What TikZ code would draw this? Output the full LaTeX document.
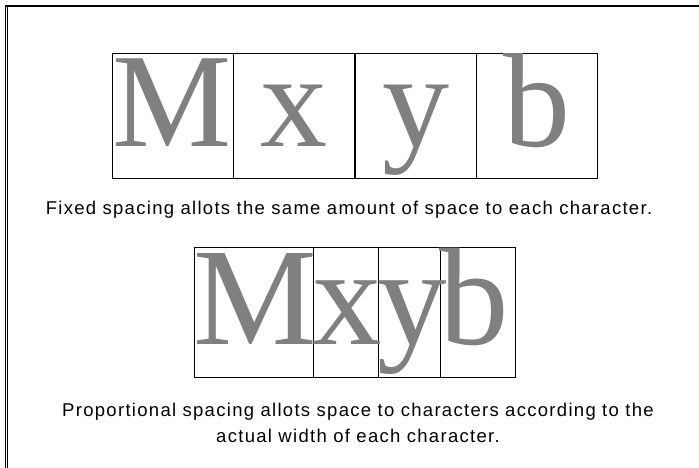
\documentclass[tikz,border=0pt]{standalone}
\usepackage{fontspec}
\usetikzlibrary{calc}
\newfontfamily\glyphfont{Liberation Serif}
\newfontfamily\capfont[LetterSpace=7]{Liberation Sans}
\definecolor{glyphgray}{RGB}{128,128,128}
\tikzset{
    captxt/.style={
        font=\capfont\fontsize{18.5}{26}\selectfont
    }
}

\begin{document}
\begin{tikzpicture}[x=1pt,y=-1pt, line cap=butt, line join=miter]

\tikzset{
  cell/.style={draw=black, line width=0.8pt, rectangle, inner sep=0pt},
  fixcell/.style={cell, minimum width=121pt, minimum height=125pt},
  propcell/.style={cell, minimum height=130pt},
  glyph/.style={text=glyphgray, inner sep=0pt, font=\glyphfont\fontsize{134}{134}\selectfont},
  pglyph/.style={glyph, font=\glyphfont\fontsize{139}{139}\selectfont},
}

\useasboundingbox (0,0) rectangle (699,468);

% frame
\draw[line width=2pt] (5,6) -- (699,6);
\draw[line width=0.7pt] (5.5,5) -- (5.5,468);
\draw[line width=0.7pt] (7.6,7) -- (7.6,468);

% baselines
\coordinate (fixbase) at (0,147);
\coordinate (propbase) at (0,344);

% fixed spacing cells
\node[fixcell] (f1) at (172.5,115.5) {};
\node[fixcell] (f2) at (294,115.5) {};
\node[fixcell] (f3) at (415.5,115.5) {};
\node[fixcell] (f4) at (536.5,115.5) {};

\node[glyph, anchor=base] (gf1) at (f1 |- fixbase) {M};
\node[glyph, anchor=base] (gf2) at (f2 |- fixbase) {x};
\node[glyph, anchor=base] (gf3) at (f3 |- fixbase) {y};
\node[glyph, anchor=base] (gf4) at (f4 |- fixbase) {b};

\node[captxt, anchor=base] (capfix) at (349,214) {Fixed spacing allots the same amount of space to each character.};

% proportional spacing cells
\node[propcell, minimum width=119pt] (p1) at (253.5,312) {};
\node[propcell, minimum width=65pt] (p2) at (345.5,312) {};
\node[propcell, minimum width=62pt] (p3) at (409,312) {};
\node[propcell, minimum width=75pt] (p4) at (477.5,312) {};

\node[pglyph, anchor=base west] (gp1) at (p1.west |- propbase) {M};
\node[pglyph, anchor=base west] (gp2) at (p2.west |- propbase) {x};
\node[pglyph, anchor=base west] (gp3) at (p3.west |- propbase) {y};
\node[pglyph, anchor=base west] (gp4) at (p4.west |- propbase) {b};

% last line sits on the base anchor
\node[captxt, align=center, anchor=base] (capprop) at (358,442)
  {Proportional spacing allots space to characters according to the\\actual width of each character.};

\end{tikzpicture}
\end{document}
